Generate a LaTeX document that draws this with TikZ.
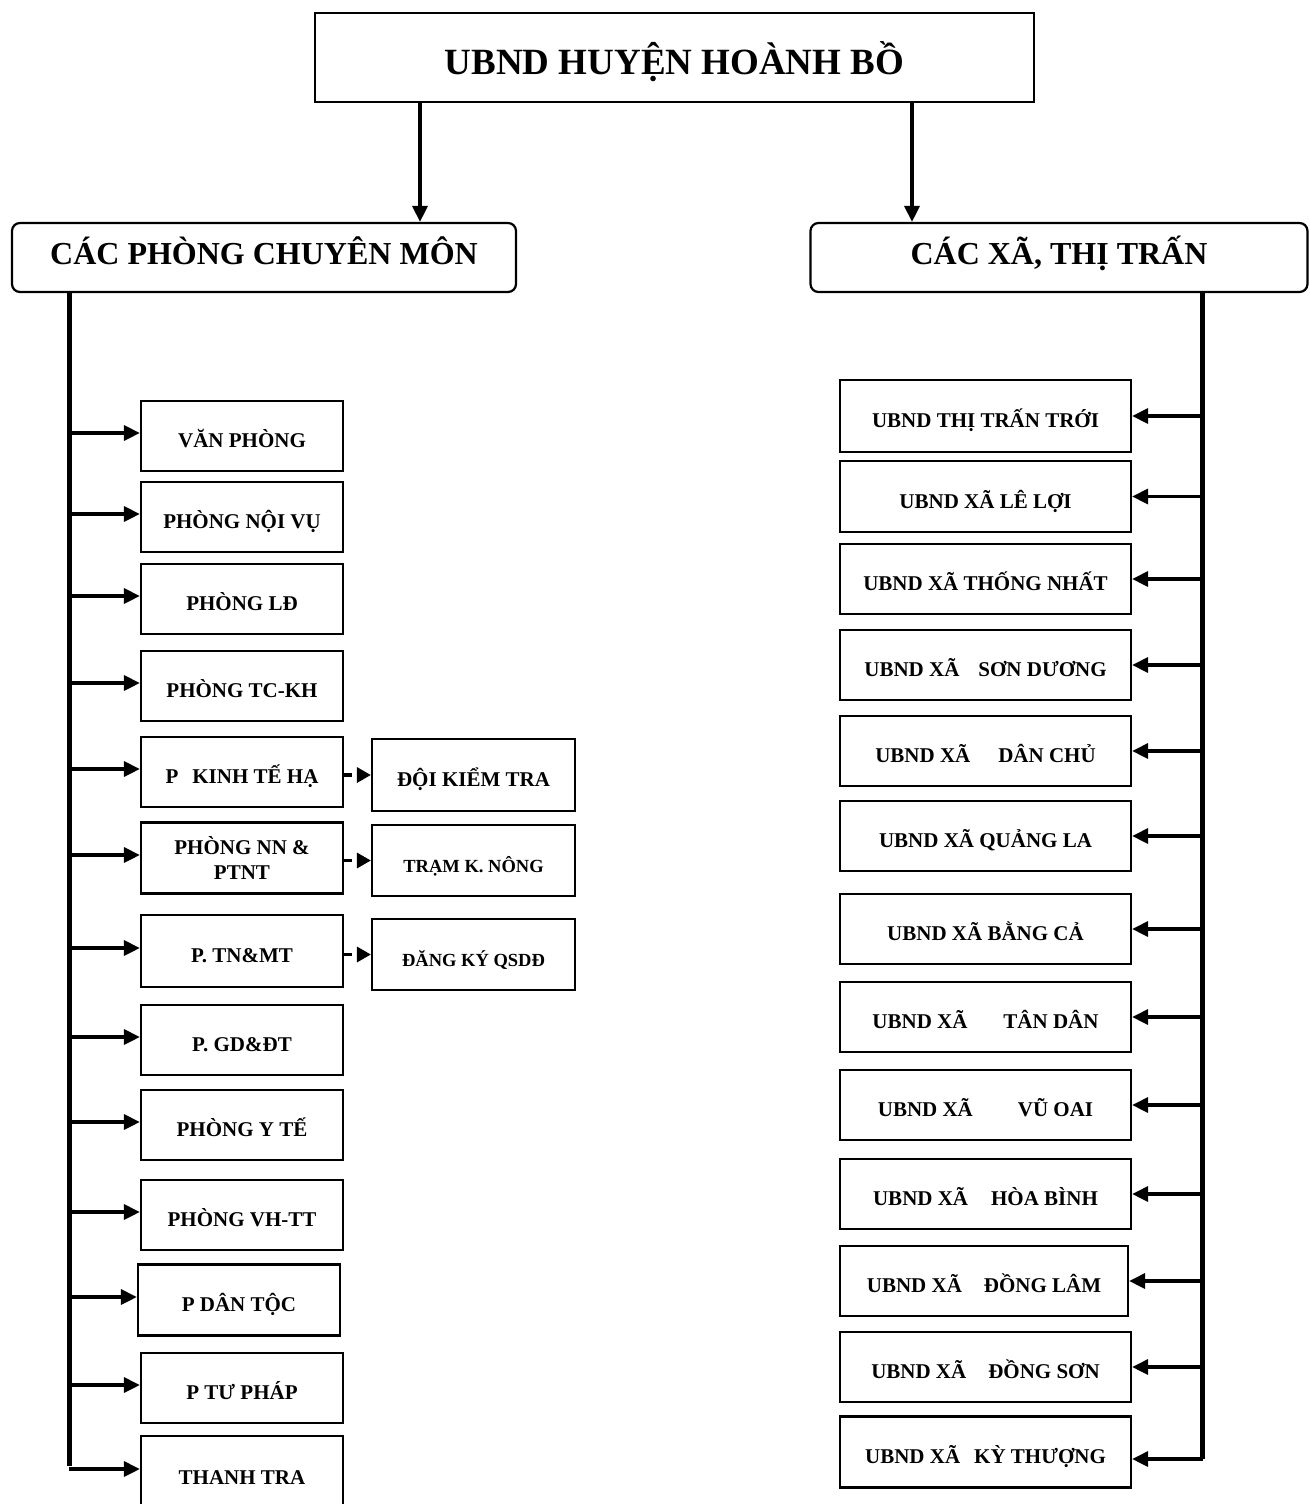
\documentclass[tikz,border=0pt]{standalone}
\usepackage{fontspec}
\setmainfont{Liberation Serif}
\usetikzlibrary{arrows.meta,calc}
\begin{document}
\begin{tikzpicture}[x=1pt,y=-1pt,
  box/.style={draw, line width=2.2pt, inner sep=0pt, align=center,
    font=\bfseries\fontsize{21}{25}\selectfont},
  one/.style={text height=25pt, text depth=2pt},
  lbox/.style={box, one, minimum width=202pt, minimum height=70pt},
  rbox/.style={box, one, minimum width=291pt, minimum height=70pt},
  sbox/.style={box, one, minimum width=203pt, minimum height=71pt},
  small/.style={font=\bfseries\fontsize{18.5}{22}\selectfont},
  hbox/.style={draw, line width=2.2pt, rounded corners=8pt, inner sep=0pt,
    text height=15pt, text depth=2pt, minimum height=69pt,
    font=\bfseries\fontsize{32}{38}\selectfont},
  arr/.style={line width=3.2pt, -{Triangle[length=16pt,width=15pt]}},
  darr/.style={line width=3.2pt, dash pattern=on 8pt off 8pt, -{Triangle[length=14pt,width=15pt]}},
  trunk/.style={line width=5pt}
]
\clip (0,0) rectangle (1309,1504);
\fill[white] (0,0) rectangle (1309,1504);

% top
\node[draw, line width=2.4pt, inner sep=0pt, minimum width=719pt, minimum height=89pt,
  text height=36pt, text depth=1.5pt, font=\bfseries\fontsize{37}{44}\selectfont]
  (top) at (674.5,57.5) {UBND HUYỆN HOÀNH BỒ};

% headers
\node[hbox, minimum width=504pt] (lh) at (264,257.5) {CÁC PHÒNG CHUYÊN MÔN};
\node[hbox, minimum width=497pt] (rh) at (1059,257.5) {CÁC XÃ, THỊ TRẤN};

\coordinate (ta) at (420,0);
\coordinate (tb) at (912,0);
\draw[arr] (top.south -| ta) -- (lh.north -| ta);
\draw[arr] (top.south -| tb) -- (rh.north -| tb);

% left boxes
\node[lbox] (b1) at (242,436) {VĂN PHÒNG};
\node[lbox] (b2) at (242,517) {PHÒNG NỘI VỤ};
\node[lbox] (b3) at (242,599) {PHÒNG LĐ};
\node[lbox] (b4) at (242,686) {PHÒNG TC-KH};
\node[lbox] (b5) at (242,772) {P\hspace{14pt}KINH TẾ HẠ};
\node[box, minimum width=202pt, minimum height=71pt] (b6) at (242,858) {PHÒNG NN \&\\PTNT};
\node[lbox, minimum height=72pt] (b7) at (242,951) {P. TN\&MT};
\node[lbox] (b8) at (242,1040) {P. GD\&ĐT};
\node[lbox] (b9) at (242,1125) {PHÒNG Y TẾ};
\node[lbox] (b10) at (242,1215) {PHÒNG VH-TT};
\node[lbox, minimum height=71pt] (b11) at (239,1300) {P DÂN TỘC};
\node[lbox] (b12) at (242,1388) {P TƯ PHÁP};
\node[lbox, minimum height=74pt] (b13) at (242,1473) {THANH TRA};

% sub boxes
\node[sbox, minimum height=72pt] (s1) at (473.5,775) {ĐỘI KIỂM TRA};
\node[sbox, small] (s2) at (473.5,860.5) {TRẠM K. NÔNG};
\node[sbox, small] (s3) at (473.5,954.5) {ĐĂNG KÝ QSDĐ};

% left trunk
\coordinate (lt) at (69,0);
\draw[trunk] (lh.south -| lt) -- ($(lt |- b13.west)+(0,-7)$);
\foreach \n in {b1,b2,b3,b4,b5,b6,b7,b8,b9,b10,b11,b12}
  \draw[arr] ($(lt |- \n.west)+(0,-3)$) -- ($(\n.west)+(0,-3)$);
\draw[arr] ($(lt |- b13.west)+(0,-4)$) -- ($(b13.west)+(0,-4)$);

\draw[darr] (b5.east |- s1.west) -- (s1.west);
\draw[darr] (b6.east |- s2.west) -- (s2.west);
\draw[darr] (b7.east |- s3.west) -- (s3.west);

% right boxes
\node[rbox, minimum height=72pt] (r1) at (985.5,416) {UBND THỊ TRẤN TRỚI};
\node[rbox, minimum height=71pt] (r2) at (985.5,496.5) {UBND XÃ LÊ LỢI};
\node[rbox] (r3) at (985.5,579) {UBND XÃ THỐNG NHẤT};
\node[rbox] (r4) at (985.5,665) {UBND XÃ\hspace{19pt}SƠN DƯƠNG};
\node[rbox] (r5) at (985.5,751) {UBND XÃ\hspace{28pt}DÂN CHỦ};
\node[rbox] (r6) at (985.5,836) {UBND XÃ QUẢNG LA};
\node[rbox] (r7) at (985.5,929) {UBND XÃ BẰNG CẢ};
\node[rbox] (r8) at (985.5,1017) {UBND XÃ\hspace{36pt}TÂN DÂN};
\node[rbox] (r9) at (985.5,1105) {UBND XÃ\hspace{45pt}VŨ OAI};
\node[rbox] (r10) at (985.5,1194) {UBND XÃ\hspace{23pt}HÒA BÌNH};
\node[rbox, minimum width=288pt] (r11) at (984,1281) {UBND XÃ\hspace{22pt}ĐỒNG LÂM};
\node[rbox] (r12) at (985.5,1367) {UBND XÃ\hspace{22pt}ĐỒNG SƠN};
\node[rbox, minimum height=71pt] (r13) at (985.5,1452) {UBND XÃ\hspace{14pt}KỲ THƯỢNG};

% right trunk
\coordinate (rt) at (1202,0);
\draw[trunk] (rh.south -| rt) -- ($(rt |- r13.east)+(0,7)$);
\foreach \n in {r1,r2,r3,r4,r5,r6,r7,r8,r9,r10,r11,r12}
  \draw[arr] (rt |- \n.east) -- (\n.east);
\draw[arr] ($(rt |- r13.east)+(1.2,7)$) -- ($(r13.east)+(0,7)$);
\end{tikzpicture}
\end{document}
